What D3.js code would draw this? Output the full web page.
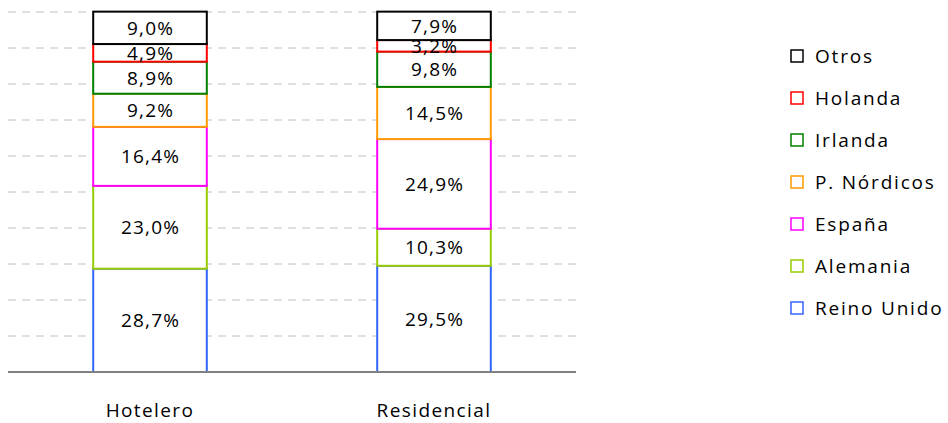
<!DOCTYPE html>
<html>
<head>
<meta charset="utf-8">
<script src="https://cdn.jsdelivr.net/npm/d3@7"></script>
<style>
  body { margin: 0; background: #fff; }
  text { font-family: "Open Sans", sans-serif; fill: #000; }
</style>
</head>
<body>
<svg id="chart" width="948" height="423"></svg>
<script>
const categories = ["Hotelero", "Residencial"];
const series = ["Reino Unido", "Alemania", "España", "P. Nórdicos", "Irlanda", "Holanda", "Otros"];
const colors = ["#3366ff", "#99cc00", "#ff00ff", "#ff9900", "#008000", "#ff0000", "#000000"];
const hotelero = [28.7, 23.0, 16.4, 9.2, 8.9, 4.9, 9.0];
const residencial = [29.5, 10.3, 24.9, 14.5, 9.8, 3.2, 7.9];
const gridTicks = [10, 20, 30, 40, 50, 60, 70, 80, 90, 100];

const values = [hotelero, residencial];
const rows = categories.map((c, i) => {
  const r = { cat: c };
  series.forEach((s, j) => r[s] = values[i][j]);
  return r;
});

const svg = d3.select("#chart");
const plotL = 8, plotR = 576, plotT = 12, plotB = 372;

const x = d3.scaleBand().domain(categories).range([plotL, plotR])
  .paddingInner(0.6).paddingOuter(0.3);
const y = d3.scaleLinear().domain([0, 100]).range([plotB, plotT]);
const color = d3.scaleOrdinal().domain(series).range(colors);

// dashed gridlines
svg.append("g").selectAll("line").data(gridTicks).join("line")
  .attr("x1", plotL).attr("x2", plotR)
  .attr("y1", d => y(d)).attr("y2", d => y(d))
  .attr("stroke", "#c0c0c0").attr("stroke-width", 1)
  .attr("stroke-dasharray", "8,6");

const stacked = d3.stack().keys(series)(rows);

const layers = svg.append("g").selectAll("g").data(stacked).join("g")
  .attr("stroke", d => color(d.key));

layers.selectAll("rect").data(d => d).join("rect")
  .attr("x", d => x(d.data.cat))
  .attr("width", x.bandwidth())
  .attr("y", d => y(d[1]))
  .attr("height", d => y(d[0]) - y(d[1]))
  .attr("fill", "#fff")
  .attr("stroke-width", 2);

// value labels
const fmt = v => d3.format(".1f")(v).replace(".", ",") + "%";
layers.selectAll("text").data(d => d.map(p => ({ p, key: d.key }))).join("text")
  .attr("x", d => x(d.p.data.cat) + x.bandwidth() / 2 + 0.6)
  .attr("y", d => (y(d.p[0]) + y(d.p[1])) / 2)
  .attr("dy", "0.36em")
  .attr("text-anchor", "middle")
  .attr("stroke", "none")
  .style("font-size", "19px")
  .style("letter-spacing", "1.2px")
  .text(d => fmt(d.p.data[d.key]));

// baseline axis
const xAxis = svg.append("g").attr("transform", `translate(0,${plotB})`)
  .call(d3.axisBottom(x).tickSize(0).tickPadding(32));
xAxis.select(".domain").attr("d", `M${plotL},0H${plotR}`)
  .attr("stroke", "#808080").attr("stroke-width", 2);
xAxis.selectAll("text").style("font-size", "19px")
  .style("letter-spacing", "1.4px")
  .style("font-family", "'Open Sans', sans-serif")
  .attr("fill", "#000");

// legend
const legend = svg.append("g").attr("transform", "translate(791,56)");
const legendItems = series.slice().reverse();
const li = legend.selectAll("g").data(legendItems).join("g")
  .attr("transform", (d, i) => `translate(0,${i * 42})`);
li.append("rect").attr("x", 0).attr("y", -6).attr("width", 12).attr("height", 12)
  .attr("fill", "#fff").attr("stroke", d => color(d)).attr("stroke-width", 1.5);
li.append("text").attr("x", 24).attr("dy", "0.36em")
  .style("font-size", "19px").style("letter-spacing", "1.8px").text(d => d);
</script>
</body>
</html>
